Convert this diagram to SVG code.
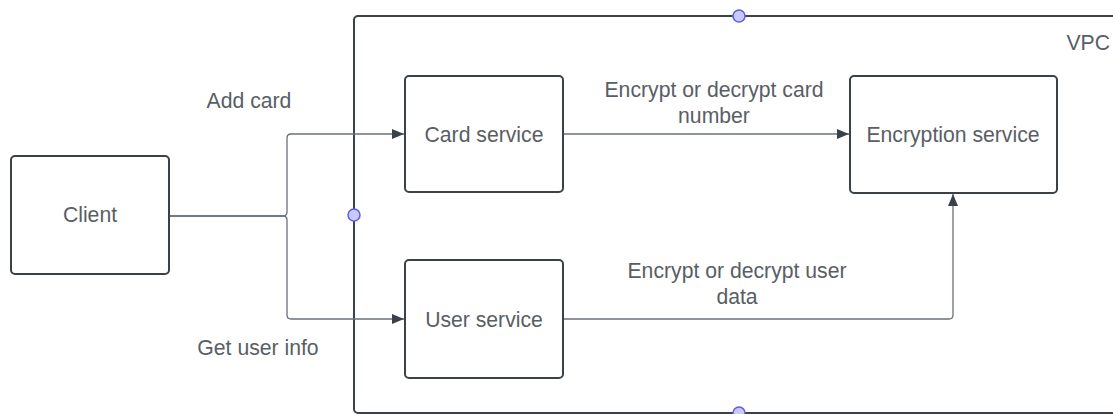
<svg xmlns="http://www.w3.org/2000/svg" width="1113" height="414" viewBox="0 0 1113 414">
<defs>
<style>
.box{fill:#fff;stroke:#3a414a;stroke-width:2}
.lbl{font-family:"Liberation Sans",Arial,sans-serif;font-size:21.2px;fill:#595e65}
.mid{text-anchor:middle;dominant-baseline:central}
.conn{fill:none;stroke:#6b717a;stroke-width:1.3}
.dot{fill:#c9c9ff;stroke:#5c5cf0;stroke-width:1.5}
</style>
<marker id="arr" viewBox="0 0 12 10" refX="12" refY="5" markerWidth="12" markerHeight="10" markerUnits="userSpaceOnUse" orient="auto">
<path d="M0,0 L12,5 L0,10 Z" fill="#3a414a"/>
</marker>
</defs>
<rect width="1113" height="414" fill="#fff"/>
<g id="vpc">
<rect class="box" x="354" y="16" width="800" height="397" rx="4"/>
<text class="lbl" x="1110" y="50" text-anchor="end">VPC</text>
<circle class="dot" cx="739" cy="16" r="6"/>
<circle class="dot" cx="354" cy="215" r="6"/>
<circle class="dot" cx="739" cy="413" r="6"/>
</g>
<g id="connectors">
<path class="conn" d="M169,216 H283 Q287,216 287,212 V138 Q287,134 291,134 H404" marker-end="url(#arr)"/>
<path class="conn" d="M169,216 H283 Q287,216 287,220 V315 Q287,319 291,319 H404" marker-end="url(#arr)"/>
<path class="conn" d="M563,134 H849" marker-end="url(#arr)"/>
<path class="conn" d="M563,319 H949 Q953,319 953,315 V194" marker-end="url(#arr)"/>
<text class="lbl" x="249" y="108" text-anchor="middle">Add card</text>
<text class="lbl" x="258" y="355" text-anchor="middle">Get user info</text>
<text class="lbl" x="714" y="97" text-anchor="middle">Encrypt or decrypt card</text>
<text class="lbl" x="714" y="123" text-anchor="middle">number</text>
<text class="lbl" x="737" y="278" text-anchor="middle">Encrypt or decrypt user</text>
<text class="lbl" x="737" y="304" text-anchor="middle">data</text>
</g>
<g id="client">
<rect class="box" x="11" y="156" width="158" height="118" rx="4"/>
<text class="lbl mid" x="90" y="214">Client</text>
</g>
<g id="card-service">
<rect class="box" x="405" y="76" width="158" height="116" rx="4"/>
<text class="lbl mid" x="484" y="134">Card service</text>
</g>
<g id="user-service">
<rect class="box" x="405" y="260" width="158" height="118" rx="4"/>
<text class="lbl mid" x="484" y="319">User service</text>
</g>
<g id="encryption-service">
<rect class="box" x="850" y="76" width="207" height="117" rx="4"/>
<text class="lbl mid" x="953" y="134">Encryption service</text>
</g>
</svg>
